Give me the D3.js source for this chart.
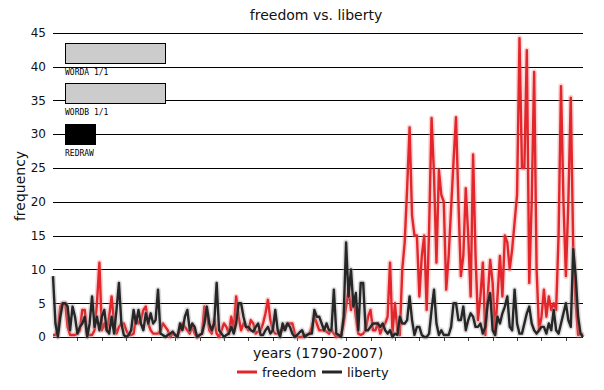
<!DOCTYPE html>
<html lang="en">
<head>
  <meta charset="UTF-8">
  <title>freedom vs. liberty</title>
  <script src="https://d3js.org/d3.v7.min.js"></script>
  <style>
    body { margin: 0; padding: 0; background: #fff; }
    svg { display: block; font-family: "DejaVu Sans", sans-serif; }
  </style>
</head>
<body>
<svg width="604" height="390"></svg>
<script>
  // years 1790..2007, one value per year
  const startYear = 1790, endYear = 2007;
  const yTicks = [0, 5, 10, 15, 20, 25, 30, 35, 40, 45];
  const decadeTicks = d3.range(1800, 2001, 10);

  const freedom = [
    0.3, 0.3, 1, 4.5, 5, 5, 1.5, 0.3, 0.3, 0.3,
    0.5, 1, 4, 4, 0.5, 0.3, 0.3, 1, 5, 11,
    1, 2, 1, 3, 6, 2, 0.5, 1.5, 2, 2,
    1, 0.3, 0.3, 0.5, 3, 2, 2.5, 4, 4.5, 2,
    1, 0.5, 0.5, 0.5, 1, 2, 1.5, 1, 0, 0.5,
    0.3, 0.3, 1, 2, 1.5, 1, 0.5, 1.5, 0.5, 0,
    0.3, 0.5, 4.5, 3.5, 1, 0.5, 2.5, 0.5, 0, 1,
    2, 1.5, 0.5, 3, 1, 6, 3, 1, 2, 1.5,
    1, 2.5, 2, 0.5, 0.8, 1, 2, 3.5, 5.5, 2.5,
    1, 0.5, 0.5, 1, 1, 1.5, 2, 2, 2, 0.5,
    0, 0, 0, 0.3, 0.3, 0.5, 1.5, 3, 2, 1,
    1, 1, 0.8, 0.5, 1, 0.5, 0, 0.3, 0.3, 2,
    4.5, 7, 4, 6, 3, 0.5, 0.3, 0.5, 1, 3,
    4, 1, 1, 2, 0.5, 1.5, 2, 3, 11, 0.5,
    5, 1, 0.3, 10, 14, 22, 31, 18, 15, 15,
    6, 12, 15, 4, 16, 32.4, 24, 11, 24.7, 21,
    20, 7, 12, 19, 26, 32.5, 20, 9, 12, 22,
    15, 6, 27, 12, 2.5, 6, 11, 0.3, 6, 11.4,
    8, 0.3, 6, 12, 6, 15, 14, 10, 13, 17,
    21, 44.2, 25, 25, 42.4, 8, 20, 39.2, 10, 1,
    3, 7, 3, 6, 4, 5, 4, 15, 37.1, 20,
    9, 20, 35.4, 13, 5, 0.3, 0.5, 0.3
  ];

  const liberty = [
    9, 2, 0, 3, 5, 5, 4.5, 1, 4.5, 3,
    0.5, 1.5, 2, 3, 0, 2, 6, 1.5, 3, 1,
    3, 4, 1, 0.5, 3, 0.5, 4, 8, 2, 0.3,
    0, 0.3, 1, 4, 2, 4, 2, 1, 3.5, 2,
    3.5, 2, 2.5, 7, 0.5, 0.3, 0, 0.3, 0.5, 0.8,
    0.3, 0, 2, 1, 3, 4, 1, 2, 1.5, 0,
    0.3, 0.5, 2, 4.5, 2, 1, 2, 8, 1, 0.5,
    0, 0.3, 0.5, 1.5, 0.5, 2, 5, 5, 3, 1.5,
    1.5, 1, 0.8, 1.5, 2, 0.3, 0.3, 1, 1.5, 0.5,
    1, 4, 1, 0, 2, 1, 2, 1.5, 0.5, 0,
    0.3, 0.7, 1, 0, 0.3, 0.5, 0.5, 4, 3, 3,
    2, 1, 2, 1, 1, 7, 0.5, 0.3, 0, 3,
    14, 6, 10, 4.5, 6.5, 1, 8, 8, 1, 1,
    1.5, 2, 2, 2, 1.5, 2, 1, 0.5, 1, 0,
    0.5, 0.3, 3, 2, 2, 2.5, 6, 2.5, 0.3, 1.5,
    1.5, 0.3, 0, 0, 0.5, 4, 7, 2, 0.3, 1,
    0.3, 0.3, 0.3, 1.5, 5, 5, 2.5, 2.5, 4.5, 1,
    2.5, 3.5, 3, 1.5, 1.5, 2, 0.5, 1.5, 5, 6.5,
    1, 0.3, 3, 2, 3.5, 4.5, 6, 1.5, 1, 7,
    2, 0.5, 0.5, 2, 3.5, 4.5, 2, 1, 0.5, 1,
    1.5, 1.5, 0.5, 2, 1, 4, 1, 0.5, 2, 3.5,
    5, 2.5, 1.5, 13, 9, 3, 0.5, 0
  ];

  const series = [
    { name: "freedom", values: freedom, color: "#e2262b", halo: "#f08080" },
    { name: "liberty", values: liberty, color: "#262626", halo: "#999" }
  ];

  const svg = d3.select("svg");
  const x = d3.scaleLinear().domain([startYear, endYear]).range([53, 583]);
  const y = d3.scaleLinear().domain([0, 45]).range([337, 32.7]);

  // gridlines
  svg.append("g").selectAll("line").data(yTicks).join("line")
    .attr("x1", 53).attr("x2", 583)
    .attr("y1", d => Math.round(y(d)) + 0.5).attr("y2", d => Math.round(y(d)) + 0.5)
    .attr("stroke", "#000").attr("stroke-width", 1);

  svg.append("g").selectAll("text").data(yTicks).join("text")
    .attr("x", 46).attr("y", d => y(d)).attr("dy", "0.36em")
    .attr("text-anchor", "end").attr("font-size", "12px").attr("fill", "#111")
    .text(d => d);

  // small decade ticks under the baseline
  svg.append("g").selectAll("line").data(decadeTicks).join("line")
    .attr("x1", d => Math.round(x(d)) + 0.5).attr("x2", d => Math.round(x(d)) + 0.5)
    .attr("y1", y(0) + 1).attr("y2", y(0) + 4)
    .attr("stroke", "#444").attr("stroke-width", 1);

  const line = d3.line()
    .x((d, i) => x(startYear + i))
    .y(d => y(d));

  const lines = svg.append("g");
  series.forEach(s => {
    lines.append("path").attr("d", line(s.values))
      .attr("fill", "none").attr("stroke", s.halo).attr("stroke-opacity", 0.35)
      .attr("stroke-width", 5.5).attr("stroke-linejoin", "round");
    lines.append("path").attr("d", line(s.values))
      .attr("fill", "none").attr("stroke", s.color)
      .attr("stroke-width", 2.4).attr("stroke-linejoin", "round");
  });

  // titles
  svg.append("text").attr("x", 316).attr("y", 20).attr("text-anchor", "middle")
    .attr("font-size", "14px").attr("fill", "#111").text("freedom vs. liberty");
  svg.append("text").attr("x", 318).attr("y", 358).attr("text-anchor", "middle")
    .attr("font-size", "14px").attr("fill", "#111").text("years (1790-2007)");
  svg.append("text").attr("transform", "translate(25,186) rotate(-90)")
    .attr("text-anchor", "middle").attr("font-size", "14px").attr("fill", "#111")
    .text("frequency");

  // legend
  const legend = svg.append("g").attr("transform", "translate(237,372)");
  series.forEach((s, i) => {
    const g = legend.append("g").attr("transform", `translate(${i * 85},0)`);
    g.append("line").attr("x1", 0).attr("x2", 20).attr("stroke", s.color).attr("stroke-width", 3);
    g.append("text").attr("x", 25).attr("dy", "0.35em").attr("font-size", "13px")
      .attr("fill", "#111").text(s.name);
  });

  // control widgets
  const controls = [
    { label: "WORDA 1/1", y: 43, w: 100, fill: "#cccccc" },
    { label: "WORDB 1/1", y: 83, w: 100, fill: "#cccccc" },
    { label: "REDRAW", y: 124, w: 30, fill: "#000000" }
  ];
  const ctl = svg.append("g").selectAll("g").data(controls).join("g");
  ctl.append("rect").attr("x", 65.5).attr("y", d => d.y + 0.5)
    .attr("width", d => d.w).attr("height", 20)
    .attr("fill", d => d.fill).attr("stroke", "#000");
  ctl.append("text").attr("x", 65).attr("y", d => d.y + 32)
    .attr("font-family", "DejaVu Sans Mono, monospace").attr("font-size", "8px")
    .attr("fill", "#000").text(d => d.label);
</script>
</body>
</html>
